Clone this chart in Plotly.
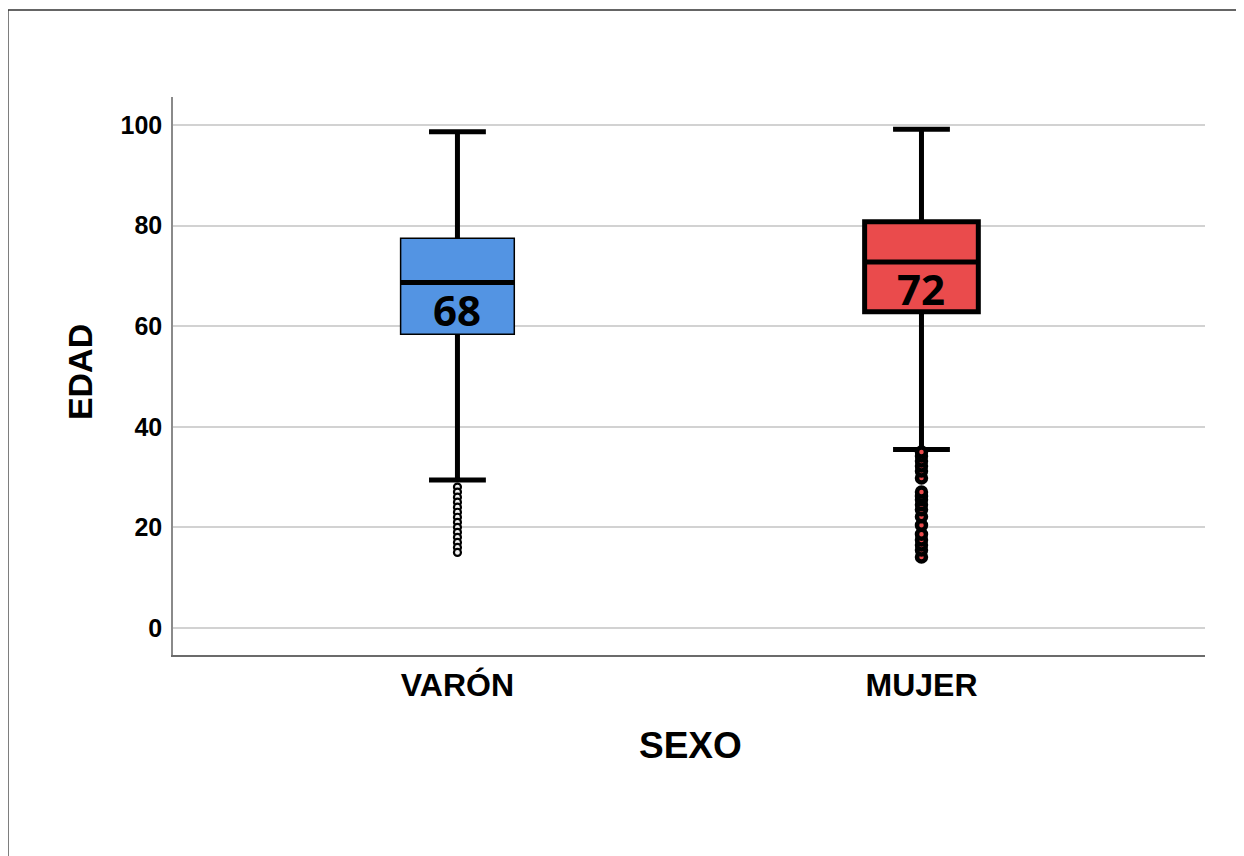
import plotly.graph_objects as go

# ---- data ----
categories = ["VARÓN", "MUJER"]
positions = [0, 1]
q1 = [58.4, 62.9]
median = [68.7, 72.8]
q3 = [77.5, 80.8]
lower_fence = [29.4, 35.5]
upper_fence = [98.7, 99.2]
median_labels = ["68", "72"]
outliers_varon = [28, 27, 26, 25, 24, 23, 22, 21, 20, 19, 18, 17, 16, 15]
outliers_mujer = [14.1, 15.5, 16.5, 17.5, 18.6, 20.4, 22.1, 23.5, 24.5, 25.5,
                  26.2, 27.0, 29.8, 31.2, 32.2, 33.2, 34.2, 35.0]
y_ticks = [0, 20, 40, 60, 80, 100]

fills = ["#5394E3", "#EA4B4C"]
BOXW = 0.245
FONT = "Liberation Sans, Arial, sans-serif"

fig = go.Figure()

# VARÓN: whiskers + caps (thick) drawn from a collapsed box at the median
fig.add_trace(go.Box(
    x=[positions[0]], q1=[median[0]], median=[median[0]], q3=[median[0]],
    lowerfence=[lower_fence[0]], upperfence=[upper_fence[0]],
    width=BOXW, whiskerwidth=0.5, boxpoints=False,
    line=dict(color="black", width=5), fillcolor=fills[0], showlegend=False,
    hoverinfo="skip"))
# VARÓN: box body with a thin outline
fig.add_trace(go.Box(
    x=[positions[0]], q1=[q1[0]], median=[median[0]], q3=[q3[0]],
    lowerfence=[q1[0]], upperfence=[q3[0]],
    width=BOXW, whiskerwidth=0, boxpoints=False,
    line=dict(color="black", width=1.5), fillcolor=fills[0], showlegend=False,
    hoverinfo="skip"))
# VARÓN: thick median line
fig.add_trace(go.Box(
    x=[positions[0]], q1=[median[0]], median=[median[0]], q3=[median[0]],
    lowerfence=[median[0]], upperfence=[median[0]],
    width=BOXW, whiskerwidth=0, boxpoints=False,
    line=dict(color="black", width=5), fillcolor=fills[0], showlegend=False,
    hoverinfo="skip"))

# MUJER: full box, thick outline
fig.add_trace(go.Box(
    x=[positions[1]], q1=[q1[1]], median=[median[1]], q3=[q3[1]],
    lowerfence=[lower_fence[1]], upperfence=[upper_fence[1]],
    width=BOXW, whiskerwidth=0.5, boxpoints=False,
    line=dict(color="black", width=5), fillcolor=fills[1], showlegend=False,
    hoverinfo="skip"))

# outliers
fig.add_trace(go.Scatter(
    x=[positions[0]] * len(outliers_varon), y=outliers_varon, mode="markers",
    marker=dict(symbol="circle", size=7, color="#f4f4f4",
                line=dict(color="black", width=2.2)),
    showlegend=False, hoverinfo="skip"))
fig.add_trace(go.Scatter(
    x=[positions[1]] * len(outliers_mujer), y=outliers_mujer, mode="markers",
    marker=dict(symbol="circle", size=9, color=fills[1],
                line=dict(color="black", width=4.5)),
    showlegend=False, hoverinfo="skip"))

# median labels inside boxes
for p, m, lab in zip(positions, median, median_labels):
    fig.add_annotation(x=p, y=m, xref="x", yref="y", text=lab, showarrow=False,
                       yanchor="middle", yshift=-27,
                       font=dict(family="Open Sans, sans-serif", size=42,
                                 color="black", weight="bold"))

# axis titles
fig.add_annotation(x=-0.0901, y=0.507, xref="paper", yref="paper", text="EDAD",
                   textangle=-90, showarrow=False, xanchor="center", yanchor="middle",
                   font=dict(family=FONT, size=34, color="black", weight="bold"))
fig.add_annotation(x=0.501, y=-0.163, xref="paper", yref="paper", text="SEXO",
                   showarrow=False, xanchor="center", yanchor="middle",
                   font=dict(family=FONT, size=37, color="black", weight="bold"))

# outer frame
fig.add_shape(type="rect", xref="paper", yref="paper",
              x0=-0.16, x1=1.2, y0=-0.6, y1=1.156,
              line=dict(color="#333333", width=1.5), fillcolor="rgba(0,0,0,0)",
              layer="below")

fig.update_layout(
    width=1244, height=856,
    margin=dict(l=165, r=47, t=89, b=209),
    paper_bgcolor="white", plot_bgcolor="white",
    showlegend=False,
    font=dict(family=FONT, color="black"),
)
fig.update_xaxes(
    range=[-0.613, 1.611], tickvals=positions, ticktext=categories,
    showgrid=False, zeroline=False, showline=True, linecolor="#6b6b6b", linewidth=1.5,
    ticks="", ticklabelstandoff=1,
    tickfont=dict(family=FONT, size=32, color="black", weight="bold"),
)
fig.update_yaxes(
    range=[-5.4, 105.6], tickvals=y_ticks,
    showgrid=True, gridcolor="#d2d2d2", gridwidth=2, zeroline=False,
    showline=True, linecolor="#8a8a8a", linewidth=1.5,
    ticks="", ticklabelstandoff=4,
    tickfont=dict(family=FONT, size=25, color="black", weight="bold"),
)

fig.write_html("out.html")
